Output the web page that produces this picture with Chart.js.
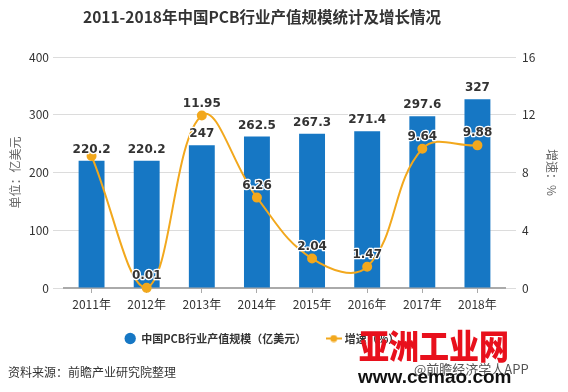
<!DOCTYPE html>
<html>
<head>
<meta charset="utf-8">
<script src="https://cdn.jsdelivr.net/npm/chart.js@4.4.1/dist/chart.umd.min.js"></script>
<style>
  html, body { margin: 0; padding: 0; background: #fff; }
  #wrap { width: 568px; height: 392px; }
</style>
</head>
<body>
<div id="wrap"><canvas id="pcbChart" width="568" height="392"></canvas></div>
<script>
// data
var years = ['2011年', '2012年', '2013年', '2014年', '2015年', '2016年', '2017年', '2018年'];
var outputValues = [220.2, 220.2, 247, 262.5, 267.3, 271.4, 297.6, 327];
var growthValues = [9.14, 0.01, 11.95, 6.26, 2.04, 1.47, 9.64, 9.88];
var leftTicks = [0, 100, 200, 300, 400];
var rightTicks = [0, 4, 8, 12, 16];

var blue = '#1677c4';
var orange = '#f2a81d';

Chart.defaults.font.family = '"Noto Sans CJK SC", "DejaVu Sans", sans-serif';
Chart.defaults.color = '#333';

// legend marker for the line series: short line with a dot
var lineMarker = document.createElement('canvas');
lineMarker.width = 16;
lineMarker.height = 8;
(function () {
    var c = lineMarker.getContext('2d');
    c.strokeStyle = orange;
    c.lineWidth = 2;
    c.beginPath();
    c.moveTo(0, 4);
    c.lineTo(16, 4);
    c.stroke();
    c.fillStyle = orange;
    c.beginPath();
    c.arc(8, 4, 3.5, 0, Math.PI * 2);
    c.fill();
})();

var valueLabels = {
    id: 'valueLabels',
    afterDatasetsDraw: function (chart) {
        var ctx = chart.ctx;
        ctx.save();
        ctx.font = 'bold 12px "DejaVu Sans"';
        ctx.textAlign = 'center';
        ctx.textBaseline = 'middle';
        ctx.lineJoin = 'round';
        ctx.lineWidth = 2.5;
        ctx.strokeStyle = '#fff';
        ctx.fillStyle = '#333';
        [0, 1].forEach(function (di) {
            var meta = chart.getDatasetMeta(di);
            var values = chart.data.datasets[di].data;
            meta.data.forEach(function (el, i) {
                // 2011 growth label is hidden under the bar label in the source
                if (di === 1 && i === 0) return;
                var y = el.y - (di === 0 ? 11 : 12);
                ctx.strokeText(String(values[i]), el.x, y);
                ctx.fillText(String(values[i]), el.x, y);
            });
        });
        ctx.restore();
    }
};

var extras = {
    id: 'extras',
    beforeDraw: function (chart) {
        // title and legend sit a bit left of centre in the source
        if (chart.titleBlock) {
            chart.titleBlock.left = -22;
            chart.titleBlock.right = chart.width - 22;
        }
        if (chart.legend) {
            chart.legend.left = -22;
            chart.legend.right = chart.width - 22;
        }
    },
    afterDraw: function (chart) {
        var ctx = chart.ctx;
        ctx.save();
        ctx.textBaseline = 'middle';
        ctx.textAlign = 'left';
        ctx.fillStyle = '#333';
        ctx.font = '12px "Noto Sans CJK SC"';
        ctx.fillText('资料来源：前瞻产业研究院整理', 8, 372);

        ctx.fillStyle = '#555';
        ctx.font = '13px "Noto Sans CJK SC"';
        ctx.fillText('@前瞻经济学人APP', 414, 369);

        ctx.fillStyle = '#e8101c';
        ctx.font = '900 30px "Noto Sans CJK SC"';
        ctx.save();
        ctx.translate(359, 346);
        ctx.scale(1, 1.12);
        ctx.fillText('亚洲工业网', 0, 0);
        ctx.restore();

        ctx.fillStyle = '#111';
        ctx.font = 'bold 19px "Liberation Sans"';
        ctx.fillText('www.cemao.com', 358, 378);
        ctx.restore();
    }
};

var ctx = document.getElementById('pcbChart');
var pcbChart = new Chart(ctx, {
    type: 'bar',
    data: {
        labels: years,
        datasets: [{
            type: 'bar',
            label: '中国PCB行业产值规模（亿美元）',
            data: outputValues,
            backgroundColor: blue,
            borderWidth: 0,
            categoryPercentage: 1,
            barPercentage: 0.47,
            yAxisID: 'y',
            order: 1
        }, {
            type: 'line',
            label: '增速（%）',
            data: growthValues,
            borderColor: orange,
            backgroundColor: orange,
            borderWidth: 2,
            pointRadius: 4,
            pointBackgroundColor: orange,
            pointBorderColor: orange,
            tension: 0.4,
            clip: false,
            yAxisID: 'y1',
            order: 0
        }]
    },
    options: {
        responsive: false,
        devicePixelRatio: 1,
        animation: false,
        layout: { padding: { left: 0, right: 0, top: 0, bottom: 38 } },
        plugins: {
            tooltip: { enabled: false },
            title: {
                display: true,
                text: '2011-2018年中国PCB行业产值规模统计及增长情况',
                color: '#333',
                font: { size: 15.5, weight: 'bold', lineHeight: 1.2 },
                padding: { top: 8, bottom: 30.4 }
            },
            legend: {
                position: 'bottom',
                labels: {
                    usePointStyle: true,
                    boxWidth: 11,
                    boxHeight: 8,
                    padding: 22,
                    color: '#333',
                    font: { size: 11, weight: 'bold' },
                    sort: function (a, b) { return a.datasetIndex - b.datasetIndex; },
                    generateLabels: function (chart) {
                        var items = Chart.defaults.plugins.legend.labels.generateLabels(chart);
                        items.forEach(function (it) {
                            it.pointStyle = it.datasetIndex === 1 ? lineMarker : 'circle';
                            it.lineWidth = 0;
                        });
                        return items;
                    }
                }
            }
        },
        scales: {
            x: {
                offset: true,
                grid: {
                    offset: false,
                    drawOnChartArea: false,
                    drawTicks: true,
                    tickLength: 5,
                    color: '#aaa'
                },
                border: { display: true, color: '#aaa', width: 2 },
                ticks: { padding: 4, color: '#333', font: { size: 12 } },
                afterFit: function (scale) { scale.height = 23; }
            },
            y: {
                position: 'left',
                min: leftTicks[0],
                max: leftTicks[leftTicks.length - 1],
                ticks: {
                    stepSize: leftTicks[1] - leftTicks[0],
                    padding: 4,
                    color: '#333',
                    font: { size: 12 }
                },
                grid: { color: '#dcdcdc', tickLength: 11 },
                border: { display: false },
                title: {
                    display: true,
                    text: '单位：亿美元',
                    color: '#666',
                    font: { size: 12 },
                    padding: { top: 8, bottom: 0 }
                },
                afterFit: function (scale) { scale.width = 64; }
            },
            y1: {
                position: 'right',
                min: rightTicks[0],
                max: rightTicks[rightTicks.length - 1],
                ticks: {
                    stepSize: rightTicks[1] - rightTicks[0],
                    padding: 6,
                    color: '#333',
                    font: { size: 12 }
                },
                grid: { drawOnChartArea: false, color: '#dcdcdc', tickLength: 11 },
                border: { display: false },
                title: {
                    display: true,
                    text: '增速：%',
                    color: '#666',
                    font: { size: 12 },
                    padding: { top: 9, bottom: 0 }
                },
                afterFit: function (scale) { scale.width = 63; }
            }
        }
    },
    plugins: [valueLabels, extras]
});
</script>
</body>
</html>
